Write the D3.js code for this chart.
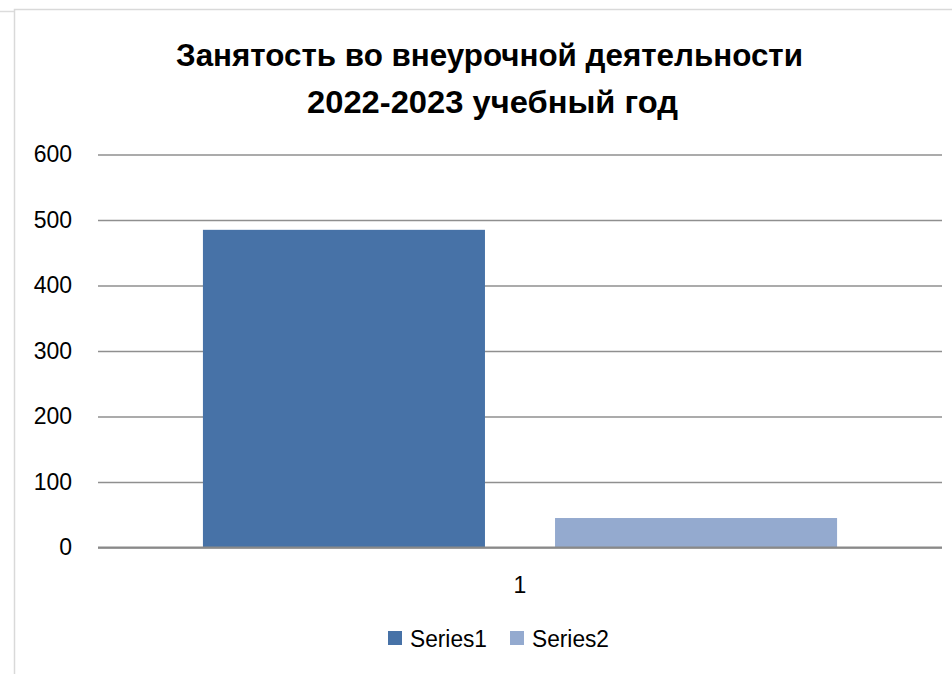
<!DOCTYPE html>
<html><head><meta charset="utf-8">
<script src="https://cdn.jsdelivr.net/npm/d3@7"></script>
<style>body{margin:0;background:#fff;} svg{display:block;}</style>
</head><body>
<script>
const titleLines = ["Занятость во внеурочной деятельности", "2022-2023 учебный год"];
const categories = ["1"];
const seriesNames = ["Series1", "Series2"];
const series1 = [485];
const series2 = [45];
const yTicks = [0, 100, 200, 300, 400, 500, 600];
const colors = ["#4772A7", "#94AACF"];

const W = 952, H = 674;
const svg = d3.select("body").append("svg").attr("width", W).attr("height", H);
const font = "'Liberation Sans', Arial, sans-serif";

// frame
svg.append("line").attr("x1",0).attr("x2",14).attr("y1",11.5).attr("y2",11.5).attr("stroke","#dcdcdc").attr("stroke-width",1.5);
svg.append("path").attr("d","M14.5,674 V9.5 H952").attr("fill","none").attr("stroke","#d9d9d9").attr("stroke-width",1.5);

const plot = {left: 98, right: 942, top: 154.5, bottom: 547.5};
const y = d3.scaleLinear().domain([0, 600]).range([plot.bottom, plot.top]);
const x0 = d3.scaleBand().domain(categories).range([plot.left, plot.right]).padding(0);
const x1 = d3.scaleBand().domain(seriesNames).range([0, x0.bandwidth()]).paddingInner(0.199).paddingOuter(0.298);

// gridlines
const yAxis = d3.axisLeft(y).tickValues(yTicks).tickSize(-(plot.right - plot.left)).tickPadding(26).tickFormat(d3.format("d"));
const ga = svg.append("g").attr("transform", `translate(${plot.left},0)`).call(yAxis);
ga.select(".domain").remove();
ga.selectAll(".tick line").attr("stroke", "#8f8f8f").attr("stroke-width", 1.5);
ga.selectAll(".tick text").attr("font-family", font).attr("font-size", 23).attr("fill", "#000");

// bars
const data = categories.map((c, i) => ({cat: c, vals: [series1[i], series2[i]]}));
const groups = svg.append("g").selectAll("g").data(data).join("g")
  .attr("transform", d => `translate(${x0(d.cat)},0)`);
groups.selectAll("rect").data(d => d.vals.map((v, j) => ({name: seriesNames[j], v, j})))
  .join("rect")
  .attr("x", d => x1(d.name)).attr("width", x1.bandwidth())
  .attr("y", d => y(d.v)).attr("height", d => y(0) - y(d.v))
  .attr("fill", d => colors[d.j]);

// zero axis line
svg.append("line").attr("x1", plot.left).attr("x2", plot.right).attr("y1", y(0)).attr("y2", y(0))
  .attr("stroke", "#898989").attr("stroke-width", 2);

// x axis labels
const xAxis = d3.axisBottom(x0).tickSize(0).tickPadding(29);
const gx = svg.append("g").attr("transform", `translate(0,${y(0)})`).call(xAxis);
gx.select(".domain").remove();
gx.selectAll(".tick text").attr("font-family", font).attr("font-size", 23).attr("fill", "#000");

// title
const baselines = [66, 113];
const centers = [489.5, 492.5];
const widths = [627, 371];
svg.append("g").selectAll("text").data(titleLines).join("text")
  .attr("font-family", font).attr("font-weight", "bold").attr("fill", "#000")
  .attr("text-anchor", "middle").attr("font-size", 31)
  .attr("x", (d, i) => centers[i]).attr("y", (d, i) => baselines[i])
  .attr("textLength", (d, i) => widths[i]).attr("lengthAdjust", "spacingAndGlyphs")
  .text(d => d);

// legend
const legendX = [388, 510];
const lg = svg.append("g").selectAll("g").data(seriesNames).join("g")
  .attr("transform", (d, i) => `translate(${legendX[i]},631)`);
lg.append("rect").attr("width", 14).attr("height", 14).attr("fill", (d, i) => colors[i]);
lg.append("text").attr("x", 22).attr("y", 15.5).attr("font-family", font).attr("font-size", 23)
  .attr("textLength", 77).attr("lengthAdjust", "spacingAndGlyphs").attr("fill", "#000").text(d => d);
</script>
</body></html>
